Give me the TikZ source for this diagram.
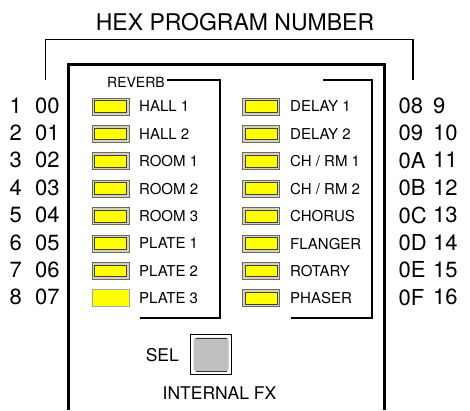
\documentclass[tikz,border=0pt]{standalone}
\usepackage{fontspec}
\setmainfont{TeX Gyre Heros}
\usetikzlibrary{positioning}
\definecolor{ledring}{RGB}{214,212,182}
\definecolor{ledrim}{RGB}{105,105,98}
\definecolor{ledlit}{RGB}{255,255,0}
\definecolor{btngray}{RGB}{192,192,192}

\begin{document}
\begin{tikzpicture}[x=1pt, y=-1pt,
  title/.style={font=\fontsize{23}{27}\selectfont, inner sep=0pt},
  num/.style={font=\fontsize{22}{26}\selectfont, anchor=west,
              inner sep=0pt, text depth=0pt},
  lbl/.style={font=\fontsize{15}{18}\selectfont, anchor=west,
              inner sep=0pt, text depth=0pt},
  grplbl/.style={font=\fontsize{14}{16}\selectfont, anchor=west,
                 inner sep=0pt, text depth=0pt},
  btnlbl/.style={font=\fontsize{17.5}{20}\selectfont, inner sep=0pt,
                 text depth=0pt},
  led/.style={rectangle, draw=ledrim, fill=ledring, line width=0.9pt,
              minimum width=37pt, minimum height=17pt, inner sep=0pt,
              path picture={\filldraw[fill=ledlit, draw=black!75, line width=0.8pt]
                ([shift={(2.6pt,2.6pt)}]path picture bounding box.south west) rectangle
                ([shift={(-2.6pt,-2.6pt)}]path picture bounding box.north east);}},
  ledon/.style={rectangle, draw=black!35, fill=ledlit, line width=0.9pt,
                minimum width=37pt, minimum height=17pt, inner sep=0pt},
  button/.style={rectangle, draw=black, fill=white, line width=0.9pt,
                 minimum width=41pt, minimum height=40pt, inner sep=0pt,
                 path picture={
                   \fill[btngray, rounded corners=3pt]
                     ([shift={(3pt,3pt)}]path picture bounding box.south west) rectangle
                     ([shift={(-3pt,-3pt)}]path picture bounding box.north east);
                   \draw[black!80, line width=0.8pt]
                     ([shift={(5pt,3.6pt)}]path picture bounding box.south west) --
                     ([shift={(-5pt,3.6pt)}]path picture bounding box.south east);
                   \draw[black!80, line width=0.8pt]
                     ([shift={(5pt,-3.6pt)}]path picture bounding box.north west) --
                     ([shift={(-5pt,-3.6pt)}]path picture bounding box.north east);}},
  frame/.style={line width=1.5pt},
  panel/.style={line width=2.8pt},
  group/.style={line width=2pt}
]
\useasboundingbox (0,0) rectangle (470,410);

% Title and bracket
\node[title] (hexnum) at (235,22.5) {HEX PROGRAM NUMBER};
\draw[frame] (45.7,80) -- (45.7,39.3) -- (413,39.3) -- (413,80);

% Panel outline
\draw[panel] (68.5,410) -- (68.5,64.5) -- (384.5,64.5) -- (384.5,410);

% Reverb group
\node[grplbl] (reverb) at (107,82) {REVERB};
\draw[group] ([xshift=2pt]reverb.east |- 0,80) -- (220,80) -- (220,318) -- (140,318);

% Other group
\draw[group] (323,80) -- (372,80) -- (372,318) -- (290.7,318);

% Left column
\foreach \lbl/\dec/\hex [count=\i] in {HALL 1/1/00, HALL 2/2/01, ROOM 1/3/02,
    ROOM 2/4/03, ROOM 3/5/04, PLATE 1/6/05, PLATE 2/7/06, PLATE 3/8/07} {
  \pgfmathsetmacro\y{106.5+27.4*(\i-1)}
  \ifnum\i=8
    \node[ledon] (ledL\i) at (110.5,\y) {};
  \else
    \node[led] (ledL\i) at (110.5,\y) {};
  \fi
  \node[lbl] (txtL\i) at (139,\y) {\lbl};
  \node[num] (decL\i) at (9.5,\y-1.2) {\dec};
  \node[num] (hexL\i) at (35,\y-1.2) {\hex};
}

% Right column
\foreach \lbl/\hex/\dec [count=\i] in {DELAY 1/08/9, DELAY 2/09/10, {CH / RM 1}/0A/11,
    {CH / RM 2}/0B/12, CHORUS/0C/13, FLANGER/0D/14, ROTARY/0E/15, PHASER/0F/16} {
  \pgfmathsetmacro\y{106.5+27.4*(\i-1)}
  \node[led] (ledR\i) at (261,\y) {};
  \node[lbl] (txtR\i) at (290,\y) {\lbl};
  \node[num] (hexR\i) at (398.5,\y-1.2) {\hex};
  \node[num] (decR\i) at (433,\y-1.2) {\dec};
}

% Select button
\node[button] (selbtn) at (211,354.5) {};
\node[btnlbl, left=11pt of selbtn] (sel) {SEL};
\node[btnlbl] (intfx) at (219.5,393) {INTERNAL FX};

\end{tikzpicture}
\end{document}
